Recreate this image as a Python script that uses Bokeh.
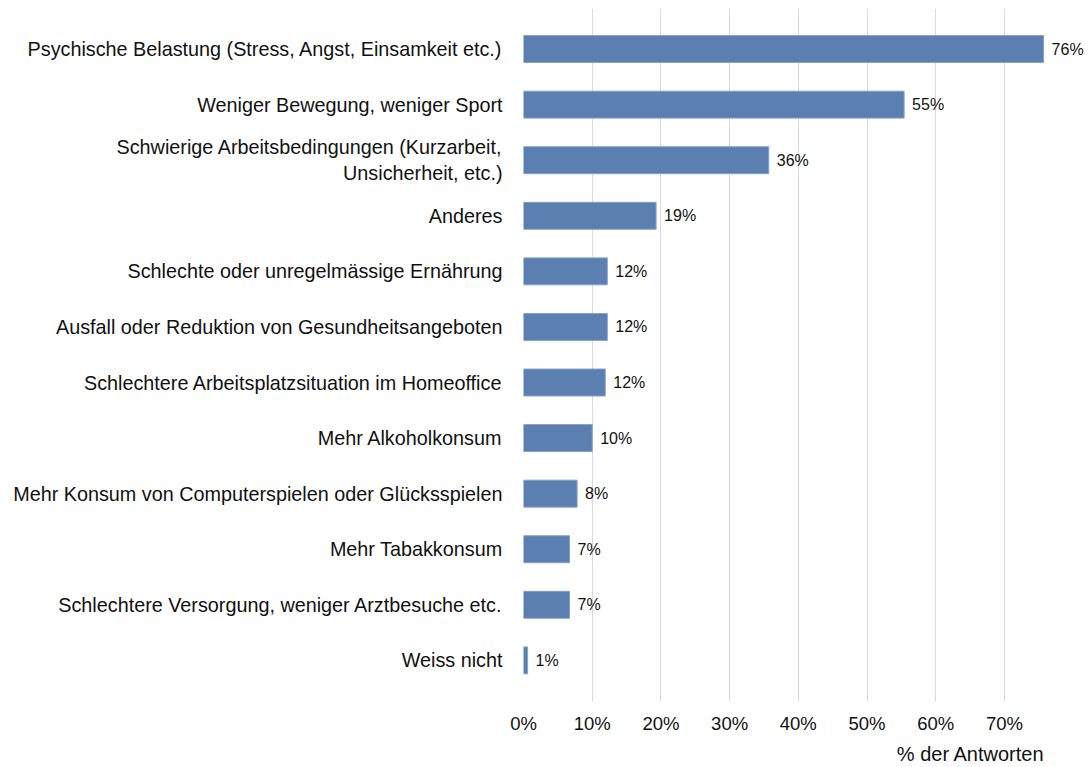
from bokeh.plotting import figure
from bokeh.models import ColumnDataSource, FixedTicker, Range1d, LinearAxis
from bokeh.embed import file_html
from bokeh.resources import INLINE

categories = [
    "Psychische Belastung (Stress, Angst, Einsamkeit etc.)",
    "Weniger Bewegung, weniger Sport",
    "Schwierige Arbeitsbedingungen (Kurzarbeit,\nUnsicherheit, etc.)",
    "Anderes",
    "Schlechte oder unregelmässige Ernährung",
    "Ausfall oder Reduktion von Gesundheitsangeboten",
    "Schlechtere Arbeitsplatzsituation im Homeoffice",
    "Mehr Alkoholkonsum",
    "Mehr Konsum von Computerspielen oder Glücksspielen",
    "Mehr Tabakkonsum",
    "Schlechtere Versorgung, weniger Arztbesuche etc.",
    "Weiss nicht",
]
values = [75.7, 55.4, 35.7, 19.3, 12.2, 12.2, 11.9, 10.0, 7.8, 6.7, 6.7, 0.6]
value_labels = ["76%", "55%", "36%", "19%", "12%", "12%", "12%", "10%", "8%", "7%", "7%", "1%"]
x_ticks = [0, 10, 20, 30, 40, 50, 60, 70]
x_tick_labels = ["0%", "10%", "20%", "30%", "40%", "50%", "60%", "70%"]
axis_title = "% der Antworten"

n = len(categories)
ypos = [n - 1 - i for i in range(n)]

src = ColumnDataSource(dict(y=ypos, v=values, lab=value_labels))

FONT = "Liberation Sans"
W, H = 1085, 767

p = figure(width=W, height=H, output_backend="svg", toolbar_location=None,
           x_range=Range1d(0, 81.8), y_range=Range1d(-0.74, n - 1 + 0.73),
           min_border_left=523, min_border_right=0, min_border_top=8,
           min_border_bottom=H - 701)
p.outline_line_color = None
p.background_fill_color = "white"
p.border_fill_color = "white"

p.hbar(y="y", right="v", left=0, height=0.485, source=src,
       fill_color="#5b7fb0", line_color="#86a1c8", line_width=1)

p.text(x="v", y="y", text="lab", source=src, x_offset=8,
       text_align="left", text_baseline="middle",
       text_font_size="16px", text_color="#111111", text_font={"value": FONT})

# x axis
p.xaxis.ticker = FixedTicker(ticks=x_ticks)
p.xaxis.major_label_overrides = {t: l for t, l in zip(x_ticks, x_tick_labels)}
p.xaxis.major_label_text_font = FONT
p.xaxis.major_label_text_font_size = "18.5px"
p.xaxis.major_label_text_color = "#111111"
p.xaxis.major_label_standoff = 11
p.xaxis.axis_line_color = None
p.xaxis.major_tick_line_color = None
p.xaxis.minor_tick_line_color = None
p.xaxis.major_tick_out = 0
p.xaxis.major_tick_in = 0

# axis title drawn as a second bottom axis with a single labelled tick
title_x = 65.1
title_axis = LinearAxis(ticker=FixedTicker(ticks=[title_x]),
                        major_label_overrides={title_x: axis_title},
                        major_label_text_font=FONT,
                        major_label_text_font_size="20px",
                        major_label_text_color="#111111",
                        major_label_standoff=6,
                        axis_line_color=None, major_tick_line_color=None,
                        minor_tick_line_color=None, major_tick_out=0,
                        major_tick_in=0)
p.add_layout(title_axis, "below")

# y axis
p.yaxis.ticker = FixedTicker(ticks=ypos)
p.yaxis.major_label_overrides = {y: c for y, c in zip(ypos, categories)}
p.yaxis.major_label_text_font = FONT
p.yaxis.major_label_text_font_size = "19.8px"
p.yaxis.major_label_text_color = "#111111"
p.yaxis.major_label_standoff = 21
p.yaxis.axis_line_color = None
p.yaxis.major_tick_line_color = None
p.yaxis.minor_tick_line_color = None
p.yaxis.major_tick_out = 0
p.yaxis.major_tick_in = 0

p.xgrid.ticker = FixedTicker(ticks=x_ticks)
p.xgrid.grid_line_color = "#d9d9d9"
p.xgrid.grid_line_width = 1
p.ygrid.grid_line_color = None

open("out.html", "w").write(file_html(p, INLINE))
